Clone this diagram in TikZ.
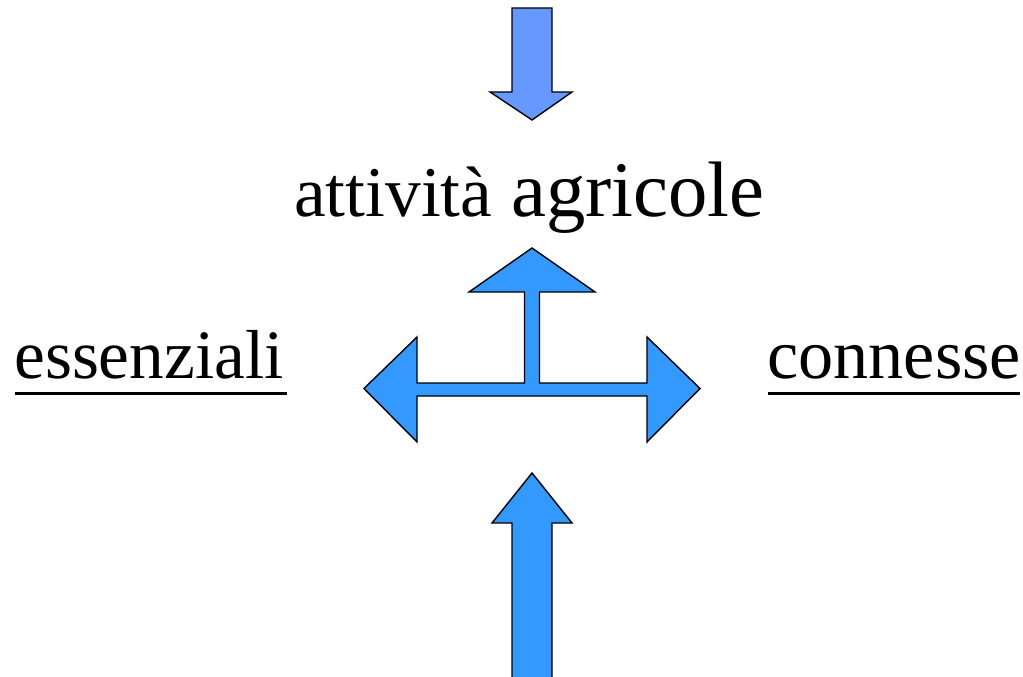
\documentclass[tikz,border=0pt]{standalone}
\usepackage{fontspec}
\setmainfont{Liberation Serif}
\definecolor{lightblue}{HTML}{6699FF}
\definecolor{midblue}{HTML}{3399FF}
\tikzset{
  arrowshape/.style={draw=black, line width=1.4pt*0.75, line join=miter},
  txt/.style={inner sep=0pt, anchor=base west},
  uline/.style={line width=3.5*0.75pt}
}
\begin{document}
\begin{tikzpicture}[x=0.75pt,y=-0.75pt]
\useasboundingbox (0,0) rectangle (1023,677);
% top arrow
\filldraw[arrowshape, fill=lightblue] (512,8) -- (552,8) -- (552,92) -- (572,92) -- (532,120) -- (490,92) -- (512,92) -- cycle;
% three-way arrow
\filldraw[arrowshape, fill=midblue] (532,248) -- (595,292) -- (539.5,292) -- (539.5,383) -- (647,383) -- (647,337) -- (700,388.5) -- (647,442) -- (647,396) -- (417,396) -- (417,442) -- (364,388.5) -- (417,337) -- (417,383) -- (524.5,383) -- (524.5,292) -- (469,292) -- cycle;
% bottom arrow
\begin{scope}
\clip (0,0) rectangle (1023,677);
\filldraw[arrowshape, fill=midblue] (532,473) -- (572,523) -- (552,523) -- (552,690) -- (512,690) -- (512,523) -- (492,523) -- cycle;
\end{scope}
% texts
\node[txt, font=\fontsize{53.5}{62}\selectfont] (att) at (294,216.5) {attività};
\node[txt, font=\fontsize{59}{68}\selectfont] (agr) at (511,216.5) {agricole};
\node[txt, font=\fontsize{52}{60}\selectfont] (ess) at (14,378) {essenziali};
\node[txt, font=\fontsize{52.7}{61}\selectfont] (con) at (767,378) {connesse};
\draw[uline] (15,393.5) -- (287,393.5);
\draw[uline] (768,393.5) -- (1020,393.5);
\end{tikzpicture}
\end{document}
